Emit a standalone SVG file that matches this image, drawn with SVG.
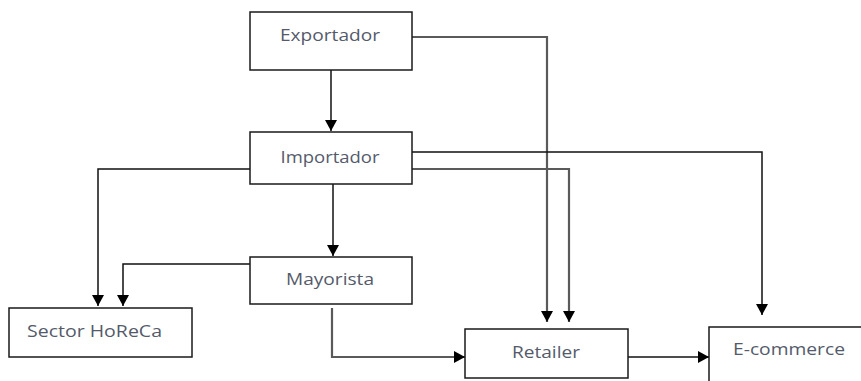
<svg xmlns="http://www.w3.org/2000/svg" width="861" height="381" viewBox="0 0 861 381">
<style>
.box{fill:#fff;stroke:#1a1a1a;stroke-width:1.5}
.lbl{font-family:"Open Sans","Liberation Sans",sans-serif;font-size:17px;fill:#545a6a}
.c{fill:none;stroke:#111;stroke-width:1.5}
.g{fill:none;stroke:#5a5a5a;stroke-width:2.2}
</style>
<defs>
<marker id="ah" viewBox="0 0 11 12" refX="11" refY="6" markerWidth="11" markerHeight="12" markerUnits="userSpaceOnUse" orient="auto">
<path d="M0,0 L11,6 L0,12 Z" fill="#000"/>
</marker>
</defs>
<rect width="861" height="381" fill="#fff"/>
<g id="connectors">
<path class="c" d="M331,70 V131" marker-end="url(#ah)"/>
<path class="g" d="M412,37 H547 V322" marker-end="url(#ah)"/>
<path class="c" d="M250,169 H98 V306" marker-end="url(#ah)"/>
<path class="c" d="M333,184 V256" marker-end="url(#ah)"/>
<path class="c" d="M412,152 H762 V315" marker-end="url(#ah)"/>
<path class="g" d="M412,169 H569 V322" marker-end="url(#ah)"/>
<path class="c" d="M250,264 H123 V306" marker-end="url(#ah)"/>
<path class="g" d="M332,308 V357 H465" marker-end="url(#ah)"/>
<path class="c" d="M628,357 H709" marker-end="url(#ah)"/>
</g>
<g id="exportador">
<rect class="box" x="250" y="12" width="162" height="58"/>
<text class="lbl" x="330" y="41" text-anchor="middle" textLength="100" lengthAdjust="spacingAndGlyphs">Exportador</text>
</g>
<g id="importador">
<rect class="box" x="250" y="132" width="162" height="52"/>
<text class="lbl" x="330" y="163" text-anchor="middle" textLength="99" lengthAdjust="spacingAndGlyphs">Importador</text>
</g>
<g id="mayorista">
<rect class="box" x="250" y="257" width="162" height="47"/>
<text class="lbl" x="330" y="285" text-anchor="middle" textLength="88" lengthAdjust="spacingAndGlyphs">Mayorista</text>
</g>
<g id="horeca">
<rect class="box" x="9" y="308" width="183" height="49"/>
<text class="lbl" x="27" y="337" textLength="135" lengthAdjust="spacingAndGlyphs">Sector HoReCa</text>
</g>
<g id="retailer">
<rect class="box" x="465" y="329" width="163" height="49"/>
<text class="lbl" x="546" y="358" text-anchor="middle" textLength="68" lengthAdjust="spacingAndGlyphs">Retailer</text>
</g>
<g id="ecommerce">
<rect class="box" x="709" y="327" width="160" height="70"/>
<text class="lbl" x="733" y="355" textLength="112" lengthAdjust="spacingAndGlyphs">E-commerce</text>
</g>
</svg>
